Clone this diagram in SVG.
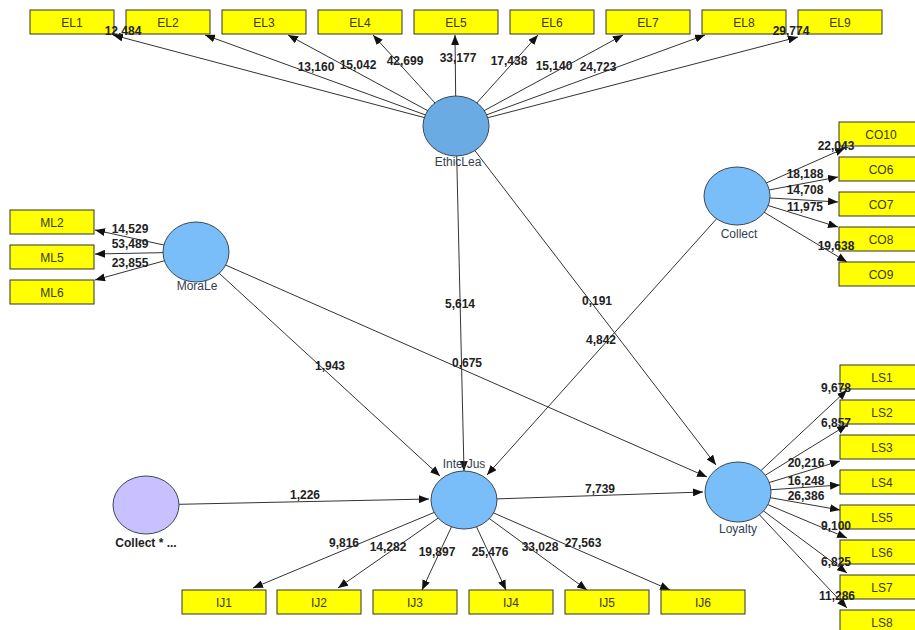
<svg xmlns="http://www.w3.org/2000/svg" width="915" height="630" viewBox="0 0 915 630">
<style>
.bg{fill:#fff}
.c line{stroke:#333;stroke-width:1;marker-end:url(#ah)}
.box rect{fill:#ffff00;stroke:#333;stroke-width:1}
.box text{font-family:"Liberation Sans",Arial,sans-serif;font-size:12px;fill:#3a3a1a;text-anchor:middle}
.lv ellipse{fill:#7abef9;stroke:#3a4656;stroke-width:1}
.lv text{font-family:"Liberation Sans",Arial,sans-serif;font-size:12px;fill:#333d4d;text-anchor:middle}
.lab text{font-family:"Liberation Sans",Arial,sans-serif;font-size:12px;font-weight:bold;fill:#222;text-anchor:middle}
</style>
<defs>
<marker id="ah" viewBox="0 0 10 8" refX="10" refY="4" markerWidth="10" markerHeight="8" markerUnits="userSpaceOnUse" orient="auto"><path d="M0,0 L10,4 L0,8 z" fill="#111"/></marker>
</defs>
<rect class="bg" x="0" y="0" width="915" height="630"/>
<g id="connectors" class="c">
<line x1="456" y1="126" x2="113" y2="35"/>
<line x1="456" y1="126" x2="205" y2="35"/>
<line x1="456" y1="126" x2="288" y2="35"/>
<line x1="456" y1="126" x2="373" y2="35"/>
<line x1="456" y1="126" x2="455" y2="35"/>
<line x1="456" y1="126" x2="538" y2="35"/>
<line x1="456" y1="126" x2="623" y2="35"/>
<line x1="456" y1="126" x2="705" y2="35"/>
<line x1="456" y1="126" x2="798" y2="37"/>
<line x1="196" y1="252" x2="95" y2="230"/>
<line x1="196" y1="252" x2="95" y2="254"/>
<line x1="196" y1="252" x2="95" y2="280"/>
<line x1="737" y1="196" x2="845" y2="148"/>
<line x1="737" y1="196" x2="838" y2="177"/>
<line x1="737" y1="196" x2="838" y2="202"/>
<line x1="737" y1="196" x2="838" y2="227"/>
<line x1="737" y1="196" x2="847" y2="262"/>
<line x1="738" y1="492" x2="847" y2="390"/>
<line x1="738" y1="492" x2="847" y2="425"/>
<line x1="738" y1="492" x2="840" y2="461"/>
<line x1="738" y1="492" x2="840" y2="485"/>
<line x1="738" y1="492" x2="840" y2="510"/>
<line x1="738" y1="492" x2="847" y2="538"/>
<line x1="738" y1="492" x2="847" y2="573"/>
<line x1="738" y1="492" x2="847" y2="608"/>
<line x1="464" y1="500" x2="253" y2="588"/>
<line x1="464" y1="500" x2="338" y2="588"/>
<line x1="464" y1="500" x2="422" y2="590"/>
<line x1="464" y1="500" x2="506" y2="590"/>
<line x1="464" y1="500" x2="587" y2="590"/>
<line x1="464" y1="500" x2="670" y2="590"/>
<line x1="146" y1="505" x2="429" y2="499"/>
<line x1="464" y1="500" x2="703" y2="492"/>
<line x1="456" y1="126" x2="464" y2="471"/>
<line x1="456" y1="126" x2="716" y2="465"/>
<line x1="737" y1="196" x2="487" y2="475"/>
<line x1="196" y1="252" x2="440" y2="476"/>
<line x1="196" y1="252" x2="707" y2="477"/>
</g>
<g id="EL1" class="box"><rect x="30" y="10" width="84" height="24"/><text x="72" y="27">EL1</text></g>
<g id="EL2" class="box"><rect x="126" y="10" width="84" height="24"/><text x="168" y="27">EL2</text></g>
<g id="EL3" class="box"><rect x="222" y="10" width="84" height="24"/><text x="264" y="27">EL3</text></g>
<g id="EL4" class="box"><rect x="318" y="10" width="84" height="24"/><text x="360" y="27">EL4</text></g>
<g id="EL5" class="box"><rect x="414" y="10" width="84" height="24"/><text x="456" y="27">EL5</text></g>
<g id="EL6" class="box"><rect x="510" y="10" width="84" height="24"/><text x="552" y="27">EL6</text></g>
<g id="EL7" class="box"><rect x="606" y="10" width="84" height="24"/><text x="648" y="27">EL7</text></g>
<g id="EL8" class="box"><rect x="702" y="10" width="84" height="24"/><text x="744" y="27">EL8</text></g>
<g id="EL9" class="box"><rect x="798" y="10" width="84" height="24"/><text x="840" y="27">EL9</text></g>
<g id="ML2" class="box"><rect x="10" y="210" width="84" height="24"/><text x="52" y="227">ML2</text></g>
<g id="ML5" class="box"><rect x="10" y="245" width="84" height="24"/><text x="52" y="262">ML5</text></g>
<g id="ML6" class="box"><rect x="10" y="280" width="84" height="24"/><text x="52" y="297">ML6</text></g>
<g id="CO10" class="box"><rect x="839" y="122" width="84" height="24"/><text x="881" y="139">CO10</text></g>
<g id="CO6" class="box"><rect x="839" y="157" width="84" height="24"/><text x="881" y="174">CO6</text></g>
<g id="CO7" class="box"><rect x="839" y="192" width="84" height="24"/><text x="881" y="209">CO7</text></g>
<g id="CO8" class="box"><rect x="839" y="227" width="84" height="24"/><text x="881" y="244">CO8</text></g>
<g id="CO9" class="box"><rect x="839" y="262" width="84" height="24"/><text x="881" y="279">CO9</text></g>
<g id="LS1" class="box"><rect x="840" y="365" width="84" height="24"/><text x="882" y="382">LS1</text></g>
<g id="LS2" class="box"><rect x="840" y="400" width="84" height="24"/><text x="882" y="417">LS2</text></g>
<g id="LS3" class="box"><rect x="840" y="435" width="84" height="24"/><text x="882" y="452">LS3</text></g>
<g id="LS4" class="box"><rect x="840" y="470" width="84" height="24"/><text x="882" y="487">LS4</text></g>
<g id="LS5" class="box"><rect x="840" y="505" width="84" height="24"/><text x="882" y="522">LS5</text></g>
<g id="LS6" class="box"><rect x="840" y="540" width="84" height="24"/><text x="882" y="557">LS6</text></g>
<g id="LS7" class="box"><rect x="840" y="575" width="84" height="24"/><text x="882" y="592">LS7</text></g>
<g id="LS8" class="box"><rect x="840" y="610" width="84" height="24"/><text x="882" y="627">LS8</text></g>
<g id="IJ1" class="box"><rect x="182" y="590" width="84" height="24"/><text x="224" y="607">IJ1</text></g>
<g id="IJ2" class="box"><rect x="277" y="590" width="84" height="24"/><text x="319" y="607">IJ2</text></g>
<g id="IJ3" class="box"><rect x="373" y="590" width="84" height="24"/><text x="415" y="607">IJ3</text></g>
<g id="IJ4" class="box"><rect x="469" y="590" width="84" height="24"/><text x="511" y="607">IJ4</text></g>
<g id="IJ5" class="box"><rect x="565" y="590" width="84" height="24"/><text x="607" y="607">IJ5</text></g>
<g id="IJ6" class="box"><rect x="661" y="590" width="84" height="24"/><text x="703" y="607">IJ6</text></g>
<g id="EthicLea" class="lv"><ellipse cx="456" cy="126" rx="33" ry="30" style="fill:#6aabe4"/><text x="458" y="166">EthicLea</text></g>
<g id="MoraLe" class="lv"><ellipse cx="196" cy="252" rx="33" ry="30"/><text x="197" y="290">MoraLe</text></g>
<g id="Collect" class="lv"><ellipse cx="737" cy="196" rx="33" ry="29"/><text x="739" y="238">Collect</text></g>
<g id="InterJus" class="lv"><ellipse cx="464" cy="500" rx="33" ry="29"/><text x="464" y="468">InterJus</text></g>
<g id="Loyalty" class="lv"><ellipse cx="738" cy="492" rx="33" ry="30"/><text x="738" y="533">Loyalty</text></g>
<g id="CollectMod" class="lv"><ellipse cx="146" cy="505" rx="33" ry="29" style="fill:#c8c0ff"/><text x="146" y="547" style="font-weight:bold;fill:#222">Collect * ...</text></g>
<g id="connector-labels" class="lab">
<text x="123" y="35">12,484</text>
<text x="316" y="71">13,160</text>
<text x="358" y="69">15,042</text>
<text x="405" y="65">42,699</text>
<text x="458" y="62">33,177</text>
<text x="509" y="65">17,438</text>
<text x="554" y="70">15,140</text>
<text x="598" y="71">24,723</text>
<text x="791" y="35">29,774</text>
<text x="130" y="233">14,529</text>
<text x="130" y="248">53,489</text>
<text x="130" y="267">23,855</text>
<text x="836" y="150">22,043</text>
<text x="805" y="178">18,188</text>
<text x="805" y="194">14,708</text>
<text x="805" y="211">11,975</text>
<text x="836" y="250">19,638</text>
<text x="836" y="392">9,678</text>
<text x="836" y="427">6,857</text>
<text x="806" y="467">20,216</text>
<text x="806" y="485">16,248</text>
<text x="806" y="500">26,386</text>
<text x="836" y="530">9,100</text>
<text x="836" y="566">6,825</text>
<text x="837" y="600">11,286</text>
<text x="344" y="547">9,816</text>
<text x="388" y="551">14,282</text>
<text x="437" y="556">19,897</text>
<text x="490" y="556">25,476</text>
<text x="540" y="551">33,028</text>
<text x="583" y="547">27,563</text>
<text x="305" y="499">1,226</text>
<text x="600" y="493">7,739</text>
<text x="460" y="308">5,614</text>
<text x="597" y="305">0,191</text>
<text x="601" y="344">4,842</text>
<text x="330" y="370">1,943</text>
<text x="467" y="367">0,675</text>
</g>
</svg>
